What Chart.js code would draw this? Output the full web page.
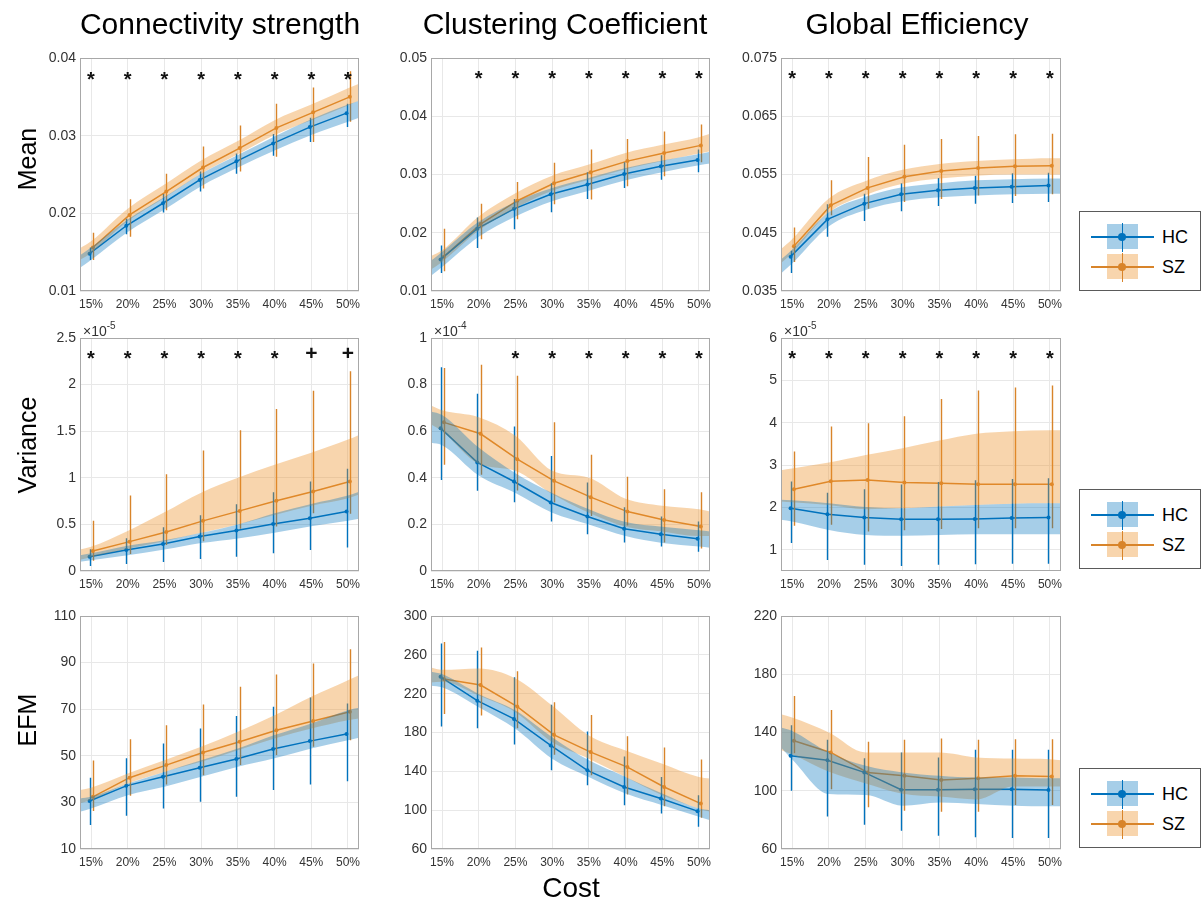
<!DOCTYPE html>
<html>
<head>
<meta charset="utf-8">
<script src="https://cdn.jsdelivr.net/npm/chart.js@4.4.0/dist/chart.umd.min.js"></script>
<style>
  body { margin: 0; background: #fff; width: 1201px; height: 906px; position: relative; overflow: hidden;
         font-family: "Liberation Sans", Arial, sans-serif; }
  canvas { position: absolute; }
  .title { position: absolute; top: 9px; font-size: 30px; line-height: 30px; color: #000;
           white-space: nowrap; transform: translateX(-50%); }
  .rowlab { position: absolute; font-size: 25px; line-height: 25px; color: #000; white-space: nowrap;
            transform: translate(-50%, -50%) rotate(-90deg); }
  .xlab { position: absolute; font-size: 28px; line-height: 28px; color: #000; transform: translate(-50%, -50%); }
  .legend { position: absolute; left: 1079px; width: 120px; height: 78px; border: 1px solid #5a5a5a; background: #fff; }
  .legend span { position: absolute; display: block; }
  .legend .lab { font-size: 18px; line-height: 22px; color: #000; }
</style>
</head>
<body>
<script>
// x axis: network cost
const cost = [15, 20, 25, 30, 35, 40, 45, 50];
const costLabels = ['15%', '20%', '25%', '30%', '35%', '40%', '45%', '50%'];
const bandCost = [13.5, 15, 20, 25, 30, 35, 40, 45, 50, 51.5];

// ---- Mean / Connectivity strength
const meanCS_yTicks = [0.01, 0.02, 0.03, 0.04];
const meanCS_hc = [0.0148, 0.0184, 0.0213, 0.0243, 0.0267, 0.0290, 0.0311, 0.0329];
const meanCS_sz = [0.0156, 0.0198, 0.0228, 0.0259, 0.0284, 0.0310, 0.0330, 0.0350];
const meanCS_hcLo = [0.0140, 0.0173, 0.0201, 0.0228, 0.0251, 0.0274, 0.0292, 0.0311];
const meanCS_hcHi = [0.0156, 0.0193, 0.0225, 0.0254, 0.0277, 0.0302, 0.0323, 0.0341];
const meanCS_szLo = [0.0140, 0.0170, 0.0204, 0.0232, 0.0254, 0.0273, 0.0292, 0.0318];
const meanCS_szHi = [0.0175, 0.0218, 0.0251, 0.0286, 0.0313, 0.0341, 0.0362, 0.0383];
const meanCS_hcBandLo = [0.0130, 0.0140, 0.0176, 0.0205, 0.0235, 0.0259, 0.0281, 0.0301, 0.0318, 0.0323];
const meanCS_hcBandHi = [0.0146, 0.0156, 0.0192, 0.0221, 0.0251, 0.0275, 0.0299, 0.0321, 0.0340, 0.0345];
const meanCS_szBandLo = [0.0140, 0.0149, 0.0190, 0.0220, 0.0251, 0.0276, 0.0301, 0.0320, 0.0339, 0.0345];
const meanCS_szBandHi = [0.0155, 0.0164, 0.0206, 0.0237, 0.0268, 0.0293, 0.0320, 0.0340, 0.0361, 0.0367];
const meanCS_sig = ['*', '*', '*', '*', '*', '*', '*', '*'];

// ---- Mean / Clustering Coefficient
const meanCC_yTicks = [0.01, 0.02, 0.03, 0.04, 0.05];
const meanCC_hc = [0.0154, 0.0207, 0.0241, 0.0266, 0.0283, 0.0301, 0.0314, 0.0325];
const meanCC_sz = [0.0159, 0.0215, 0.0255, 0.0285, 0.0304, 0.0323, 0.0337, 0.0350];
const meanCC_hcLo = [0.0131, 0.0174, 0.0206, 0.0235, 0.0258, 0.0277, 0.0291, 0.0304];
const meanCC_hcHi = [0.0178, 0.0226, 0.0258, 0.0285, 0.0304, 0.0321, 0.0333, 0.0343];
const meanCC_szLo = [0.0134, 0.0189, 0.0223, 0.0249, 0.0257, 0.0280, 0.0297, 0.0321];
const meanCC_szHi = [0.0207, 0.0250, 0.0287, 0.0320, 0.0343, 0.0361, 0.0374, 0.0386];
const meanCC_hcBandLo = [0.0126, 0.0141, 0.0193, 0.0228, 0.0254, 0.0272, 0.0290, 0.0304, 0.0316, 0.0319];
const meanCC_hcBandHi = [0.0152, 0.0167, 0.0219, 0.0253, 0.0277, 0.0294, 0.0311, 0.0324, 0.0335, 0.0339];
const meanCC_szBandLo = [0.0137, 0.0150, 0.0204, 0.0242, 0.0272, 0.0291, 0.0309, 0.0323, 0.0336, 0.0340];
const meanCC_szBandHi = [0.0160, 0.0170, 0.0228, 0.0268, 0.0298, 0.0317, 0.0337, 0.0351, 0.0364, 0.0370];
const meanCC_sig = ['', '*', '*', '*', '*', '*', '*', '*'];

// ---- Mean / Global Efficiency
const meanGE_yTicks = [0.035, 0.045, 0.055, 0.065, 0.075];
const meanGE_hc = [0.0409, 0.0473, 0.0500, 0.0516, 0.0523, 0.0527, 0.0529, 0.0531];
const meanGE_sz = [0.0427, 0.0497, 0.0527, 0.0546, 0.0556, 0.0561, 0.0564, 0.0565];
const meanGE_hcLo = [0.0381, 0.0443, 0.0470, 0.0487, 0.0496, 0.0500, 0.0501, 0.0503];
const meanGE_hcHi = [0.0419, 0.0499, 0.0517, 0.0535, 0.0544, 0.0548, 0.0552, 0.0553];
const meanGE_szLo = [0.0400, 0.0480, 0.0491, 0.0503, 0.0508, 0.0514, 0.0513, 0.0516];
const meanGE_szHi = [0.0459, 0.0540, 0.0580, 0.0601, 0.0611, 0.0616, 0.0619, 0.0620];
const meanGE_hcBandLo = [0.0380, 0.0397, 0.0461, 0.0489, 0.0504, 0.0511, 0.0514, 0.0516, 0.0517, 0.0517];
const meanGE_hcBandHi = [0.0404, 0.0421, 0.0485, 0.0512, 0.0528, 0.0535, 0.0540, 0.0542, 0.0543, 0.0543];
const meanGE_szBandLo = [0.0398, 0.0415, 0.0485, 0.0515, 0.0534, 0.0543, 0.0548, 0.0550, 0.0550, 0.0550];
const meanGE_szBandHi = [0.0422, 0.0439, 0.0509, 0.0539, 0.0558, 0.0568, 0.0573, 0.0576, 0.0578, 0.0578];
const meanGE_sig = ['*', '*', '*', '*', '*', '*', '*', '*'];

// ---- Variance / Connectivity strength (x1e-5)
const varCS_yTicks = [0, 0.5, 1, 1.5, 2, 2.5];
const varCS_hc = [0.154, 0.226, 0.290, 0.369, 0.434, 0.505, 0.566, 0.638];
const varCS_sz = [0.215, 0.315, 0.419, 0.538, 0.645, 0.753, 0.853, 0.961];
const varCS_hcLo = [0.054, 0.075, 0.097, 0.129, 0.154, 0.190, 0.226, 0.251];
const varCS_hcHi = [0.233, 0.351, 0.470, 0.599, 0.717, 0.846, 0.961, 1.097];
const varCS_szLo = [0.111, 0.183, 0.280, 0.319, 0.452, 0.477, 0.620, 0.613];
const varCS_szHi = [0.538, 0.810, 1.039, 1.294, 1.509, 1.738, 1.935, 2.143];
const varCS_hcBandLo = [0.10, 0.115, 0.17, 0.23, 0.30, 0.35, 0.41, 0.48, 0.54, 0.56];
const varCS_hcBandHi = [0.17, 0.19, 0.27, 0.33, 0.41, 0.50, 0.62, 0.72, 0.81, 0.85];
const varCS_szBandLo = [0.12, 0.15, 0.24, 0.32, 0.41, 0.50, 0.60, 0.70, 0.78, 0.82];
const varCS_szBandHi = [0.23, 0.26, 0.43, 0.63, 0.84, 1.00, 1.14, 1.27, 1.41, 1.46];
const varCS_sig = ['*', '*', '*', '*', '*', '*', '+', '+'];

// ---- Variance / Clustering Coefficient (x1e-4)
const varCC_yTicks = [0, 0.2, 0.4, 0.6, 0.8, 1];
const varCC_hc = [0.613, 0.466, 0.384, 0.294, 0.234, 0.181, 0.158, 0.138];
const varCC_sz = [0.638, 0.589, 0.480, 0.387, 0.317, 0.255, 0.219, 0.191];
const varCC_hcLo = [0.391, 0.344, 0.295, 0.212, 0.158, 0.122, 0.105, 0.083];
const varCC_hcHi = [0.875, 0.761, 0.620, 0.494, 0.380, 0.274, 0.234, 0.212];
const varCC_szLo = [0.456, 0.413, 0.345, 0.294, 0.236, 0.195, 0.122, 0.097];
const varCC_szHi = [0.871, 0.885, 0.838, 0.638, 0.499, 0.405, 0.351, 0.338];
const varCC_hcBandLo = [0.55, 0.54, 0.41, 0.335, 0.25, 0.20, 0.15, 0.12, 0.105, 0.10];
const varCC_hcBandHi = [0.685, 0.67, 0.53, 0.42, 0.335, 0.265, 0.21, 0.19, 0.175, 0.17];
const varCC_szBandLo = [0.63, 0.60, 0.46, 0.43, 0.33, 0.25, 0.19, 0.17, 0.15, 0.15];
const varCC_szBandHi = [0.71, 0.69, 0.66, 0.58, 0.43, 0.40, 0.31, 0.28, 0.265, 0.255];
const varCC_sig = ['', '', '*', '*', '*', '*', '*', '*'];

// ---- Variance / Global Efficiency (x1e-5)
const varGE_yTicks = [1, 2, 3, 4, 5, 6];
const varGE_hc = [1.98, 1.84, 1.76, 1.72, 1.72, 1.73, 1.75, 1.76];
const varGE_sz = [2.43, 2.62, 2.65, 2.59, 2.57, 2.55, 2.55, 2.55];
const varGE_hcLo = [1.16, 0.76, 0.65, 0.62, 0.65, 0.66, 0.67, 0.67];
const varGE_hcHi = [2.61, 2.35, 2.43, 2.54, 2.60, 2.64, 2.67, 2.69];
const varGE_szLo = [1.57, 1.59, 1.43, 1.46, 1.49, 1.51, 1.51, 1.51];
const varGE_szHi = [3.32, 3.91, 3.99, 4.15, 4.56, 4.76, 4.83, 4.88];
const varGE_hcBandLo = [1.71, 1.67, 1.47, 1.35, 1.33, 1.35, 1.37, 1.37, 1.37, 1.37];
const varGE_hcBandHi = [2.18, 2.17, 2.10, 2.01, 1.98, 2.02, 2.06, 2.09, 2.10, 2.10];
const varGE_szBandLo = [2.14, 2.12, 2.06, 1.96, 1.98, 2.02, 2.06, 2.09, 2.10, 2.10];
const varGE_szBandHi = [2.88, 2.92, 3.06, 3.24, 3.40, 3.58, 3.74, 3.80, 3.82, 3.82];
const varGE_sig = ['*', '*', '*', '*', '*', '*', '*', '*'];

// ---- EFM / Connectivity strength
const efmCS_yTicks = [10, 30, 50, 70, 90, 110];
const efmCS_hc = [30.6, 37.1, 41.0, 44.9, 48.6, 52.9, 56.3, 59.4];
const efmCS_sz = [32.4, 40.6, 46.0, 51.4, 56.0, 61.0, 64.9, 68.9];
const efmCS_hcLo = [20.3, 24.3, 27.4, 30.3, 32.4, 35.3, 37.7, 39.1];
const efmCS_hcHi = [40.6, 48.9, 55.3, 61.7, 67.1, 71.1, 75.0, 72.4];
const efmCS_szLo = [26.3, 32.9, 37.7, 41.7, 46.0, 50.3, 53.9, 56.7];
const efmCS_szHi = [48.0, 57.1, 63.1, 72.0, 79.6, 84.9, 89.6, 95.7];
const efmCS_hcBandLo = [26.0, 27.4, 33.1, 36.7, 41.0, 45.3, 48.9, 53.1, 56.7, 57.7];
const efmCS_hcBandHi = [31.7, 32.4, 38.1, 43.1, 48.1, 53.1, 58.9, 63.9, 69.6, 70.6];
const efmCS_szBandLo = [29.6, 31.0, 38.1, 43.1, 47.4, 52.4, 57.4, 61.7, 65.3, 66.0];
const efmCS_szBandHi = [35.3, 36.3, 42.4, 48.1, 53.9, 60.3, 67.4, 75.3, 82.4, 84.6];
const efmCS_sig = [];

// ---- EFM / Clustering Coefficient
const efmCC_yTicks = [60, 100, 140, 180, 220, 260, 300];
const efmCC_hc = [237.4, 212.8, 194.0, 166.7, 141.0, 123.9, 112.0, 99.0];
const efmCC_sz = [235.0, 228.9, 206.7, 177.6, 159.8, 144.4, 123.9, 106.8];
const efmCC_hcLo = [186.2, 184.4, 167.7, 141.0, 125.6, 105.1, 96.6, 82.9];
const efmCC_hcHi = [271.6, 264.1, 236.8, 208.7, 181.0, 155.4, 134.2, 115.4];
const efmCC_szLo = [199.1, 197.4, 184.4, 157.1, 135.9, 116.1, 104.1, 92.1];
const efmCC_szHi = [273.3, 267.5, 243.2, 211.1, 198.1, 176.2, 164.6, 152.3];
const efmCC_hcBandLo = [228.2, 226.5, 206.0, 183.8, 153.0, 134.2, 117.1, 105.1, 93.2, 89.7];
const efmCC_hcBandHi = [242.6, 240.2, 219.7, 202.6, 175.2, 151.3, 134.2, 117.1, 101.7, 100.0];
const efmCC_szBandLo = [231.6, 232.3, 218.0, 200.9, 170.1, 153.0, 134.2, 115.4, 101.7, 98.3];
const efmCC_szBandHi = [247.0, 244.6, 246.0, 235.7, 207.7, 176.9, 161.5, 147.9, 134.2, 132.5];
const efmCC_sig = [];

// ---- EFM / Global Efficiency
const efmGE_yTicks = [60, 100, 140, 180, 220];
const efmGE_hc = [124.0, 121.0, 112.6, 100.7, 100.7, 101.1, 101.1, 100.5];
const efmGE_sz = [134.3, 126.3, 112.6, 110.3, 107.3, 108.5, 110.3, 109.8];
const efmGE_hcLo = [100.0, 82.4, 76.7, 72.6, 69.1, 68.0, 67.5, 67.5];
const efmGE_hcHi = [145.0, 135.0, 122.4, 126.3, 122.9, 128.1, 128.1, 128.1];
const efmGE_szLo = [125.8, 101.1, 88.6, 86.3, 85.6, 85.6, 90.2, 90.2];
const efmGE_szHi = [165.1, 155.5, 133.6, 135.0, 135.9, 135.0, 135.4, 135.4];
const efmGE_hcBandLo = [129.7, 121.7, 97.7, 97.0, 89.7, 92.0, 90.9, 89.7, 89.3, 89.3];
const efmGE_hcBandHi = [143.4, 141.1, 126.3, 117.1, 112.6, 110.3, 109.1, 109.1, 108.5, 108.5];
const efmGE_szBandLo = [128.0, 125.0, 113.0, 105.0, 98.0, 96.0, 94.0, 103.0, 103.0, 103.0];
const efmGE_szBandHi = [152.6, 150.3, 140.0, 126.3, 126.3, 126.3, 122.9, 122.2, 121.7, 121.0];
const efmGE_sig = [];

const colTitles = ['Connectivity strength', 'Clustering Coefficient', 'Global Efficiency'];
const rowTitles = ['Mean', 'Variance', 'EFM'];
const groups = ['HC', 'SZ'];

// ---- layout / style
const FONT = '"Liberation Sans", Arial, sans-serif';
const HC_COLOR = '#0072BD', SZ_COLOR = '#D8842A';
const HC_FILL = 'rgba(0,114,189,0.35)', SZ_FILL = 'rgba(237,145,40,0.38)';
const GRID = '#e8e8e8', BOX = '#a8a8a8', TICK = '#333';
const HC_DX = -0.2, SZ_DX = 0.25;
const colLeft = [80, 431, 781], colWidth = [279, 279, 280];
const rowTop = [58, 338, 616], rowHeight = [233, 233, 233];
const AXIS_W = 55, AXIS_H = 24, PAD_T = 22, PAD_R = 10;

const panels = [
  { row: 0, col: 0, min: 0.01, max: 0.04, ticks: meanCS_yTicks, sigY: 0.0380, sig: meanCS_sig,
    hc: meanCS_hc, sz: meanCS_sz, hcLo: meanCS_hcLo, hcHi: meanCS_hcHi, szLo: meanCS_szLo, szHi: meanCS_szHi,
    hcBLo: meanCS_hcBandLo, hcBHi: meanCS_hcBandHi, szBLo: meanCS_szBandLo, szBHi: meanCS_szBandHi },
  { row: 0, col: 1, min: 0.01, max: 0.05, ticks: meanCC_yTicks, sigY: 0.0474, sig: meanCC_sig,
    hc: meanCC_hc, sz: meanCC_sz, hcLo: meanCC_hcLo, hcHi: meanCC_hcHi, szLo: meanCC_szLo, szHi: meanCC_szHi,
    hcBLo: meanCC_hcBandLo, hcBHi: meanCC_hcBandHi, szBLo: meanCC_szBandLo, szBHi: meanCC_szBandHi },
  { row: 0, col: 2, min: 0.035, max: 0.075, ticks: meanGE_yTicks, sigY: 0.0724, sig: meanGE_sig,
    hc: meanGE_hc, sz: meanGE_sz, hcLo: meanGE_hcLo, hcHi: meanGE_hcHi, szLo: meanGE_szLo, szHi: meanGE_szHi,
    hcBLo: meanGE_hcBandLo, hcBHi: meanGE_hcBandHi, szBLo: meanGE_szBandLo, szBHi: meanGE_szBandHi },
  { row: 1, col: 0, min: 0, max: 2.5, ticks: varCS_yTicks, sigY: 2.34, sig: varCS_sig, exp: '-5',
    hc: varCS_hc, sz: varCS_sz, hcLo: varCS_hcLo, hcHi: varCS_hcHi, szLo: varCS_szLo, szHi: varCS_szHi,
    hcBLo: varCS_hcBandLo, hcBHi: varCS_hcBandHi, szBLo: varCS_szBandLo, szBHi: varCS_szBandHi },
  { row: 1, col: 1, min: 0, max: 1, ticks: varCC_yTicks, sigY: 0.935, sig: varCC_sig, exp: '-4',
    hc: varCC_hc, sz: varCC_sz, hcLo: varCC_hcLo, hcHi: varCC_hcHi, szLo: varCC_szLo, szHi: varCC_szHi,
    hcBLo: varCC_hcBandLo, hcBHi: varCC_hcBandHi, szBLo: varCC_szBandLo, szBHi: varCC_szBandHi },
  { row: 1, col: 2, min: 0.5, max: 6, ticks: varGE_yTicks, sigY: 5.65, sig: varGE_sig, exp: '-5',
    hc: varGE_hc, sz: varGE_sz, hcLo: varGE_hcLo, hcHi: varGE_hcHi, szLo: varGE_szLo, szHi: varGE_szHi,
    hcBLo: varGE_hcBandLo, hcBHi: varGE_hcBandHi, szBLo: varGE_szBandLo, szBHi: varGE_szBandHi },
  { row: 2, col: 0, min: 10, max: 110, ticks: efmCS_yTicks, sig: efmCS_sig,
    hc: efmCS_hc, sz: efmCS_sz, hcLo: efmCS_hcLo, hcHi: efmCS_hcHi, szLo: efmCS_szLo, szHi: efmCS_szHi,
    hcBLo: efmCS_hcBandLo, hcBHi: efmCS_hcBandHi, szBLo: efmCS_szBandLo, szBHi: efmCS_szBandHi },
  { row: 2, col: 1, min: 60, max: 300, ticks: efmCC_yTicks, sig: efmCC_sig,
    hc: efmCC_hc, sz: efmCC_sz, hcLo: efmCC_hcLo, hcHi: efmCC_hcHi, szLo: efmCC_szLo, szHi: efmCC_szHi,
    hcBLo: efmCC_hcBandLo, hcBHi: efmCC_hcBandHi, szBLo: efmCC_szBandLo, szBHi: efmCC_szBandHi },
  { row: 2, col: 2, min: 60, max: 220, ticks: efmGE_yTicks, sig: efmGE_sig,
    hc: efmGE_hc, sz: efmGE_sz, hcLo: efmGE_hcLo, hcHi: efmGE_hcHi, szLo: efmGE_szLo, szHi: efmGE_szHi,
    hcBLo: efmGE_hcBandLo, hcBHi: efmGE_hcBandHi, szBLo: efmGE_szBandLo, szBHi: efmGE_szBandHi },
];

const toPts = (xs, ys, dx) => ys.map((v, i) => ({ x: xs[i] + dx, y: v }));

function band(data, color, fill) {
  return { data, fill, backgroundColor: color, borderColor: 'rgba(0,0,0,0)', borderWidth: 0,
           pointRadius: 0, cubicInterpolationMode: 'monotone' };
}
function meanLine(data, color) {
  return { data, fill: false, borderColor: color, backgroundColor: color, borderWidth: 1.5,
           pointRadius: 2, pointBorderWidth: 0, tension: 0 };
}

// error bars, box, significance marks and the x10^n label
function overlay(p) {
  return {
    id: 'overlay',
    afterDatasetDraw(chart, args) {
      if (args.index !== 3) return;
      const { ctx, scales: { x, y } } = chart;
      ctx.save();
      ctx.lineWidth = 1.4;
      [[p.hcLo, p.hcHi, HC_DX, HC_COLOR], [p.szLo, p.szHi, SZ_DX, SZ_COLOR]].forEach(([lo, hi, dx, c]) => {
        ctx.strokeStyle = c;
        ctx.beginPath();
        cost.forEach((v, i) => {
          const px = Math.round(x.getPixelForValue(v + dx)) + 0.5;
          ctx.moveTo(px, y.getPixelForValue(lo[i]));
          ctx.lineTo(px, y.getPixelForValue(hi[i]));
        });
        ctx.stroke();
      });
      ctx.restore();
    },
    afterDraw(chart) {
      const { ctx, chartArea: a, scales: { x, y } } = chart;
      ctx.save();
      ctx.strokeStyle = BOX;
      ctx.lineWidth = 1;
      ctx.strokeRect(a.left + 0.5, a.top + 0.5, a.width - 1, a.height - 1);
      ctx.fillStyle = '#111';
      ctx.textAlign = 'center';
      ctx.textBaseline = 'alphabetic';
      p.sig.forEach((s, i) => {
        if (!s) return;
        const py = y.getPixelForValue(p.sigY);
        const fs = s === '+' ? 21 : 20;
        ctx.font = 'bold ' + fs + 'px ' + FONT;
        ctx.fillText(s, x.getPixelForValue(cost[i]), py + (s === '+' ? 0.35 : 0.6) * fs);
      });
      if (p.exp) {
        ctx.fillStyle = TICK;
        ctx.textAlign = 'left';
        ctx.font = '14px ' + FONT;
        ctx.fillText('\u00d710', a.left + 3, a.top - 2);
        const w = ctx.measureText('\u00d710').width;
        ctx.font = '10px ' + FONT;
        ctx.fillText(p.exp, a.left + 3 + w, a.top - 9);
      }
      ctx.restore();
    }
  };
}

function makeChart(p) {
  const canvas = document.createElement('canvas');
  canvas.width = colWidth[p.col] + AXIS_W + PAD_R;
  canvas.height = rowHeight[p.row] + PAD_T + AXIS_H;
  canvas.style.left = (colLeft[p.col] - AXIS_W) + 'px';
  canvas.style.top = (rowTop[p.row] - PAD_T) + 'px';
  document.body.appendChild(canvas);

  new Chart(canvas, {
    type: 'line',
    data: {
      datasets: [
        band(toPts(bandCost, p.hcBHi, 0), HC_FILL, '+1'),
        band(toPts(bandCost, p.hcBLo, 0), HC_FILL, false),
        band(toPts(bandCost, p.szBHi, 0), SZ_FILL, '+1'),
        band(toPts(bandCost, p.szBLo, 0), SZ_FILL, false),
        meanLine(toPts(cost, p.hc, HC_DX), HC_COLOR),
        meanLine(toPts(cost, p.sz, SZ_DX), SZ_COLOR),
      ]
    },
    options: {
      responsive: false,
      animation: false,
      devicePixelRatio: 1,
      layout: { padding: { top: PAD_T, right: PAD_R, left: 0, bottom: 0 } },
      plugins: { legend: { display: false }, tooltip: { enabled: false } },
      scales: {
        x: {
          type: 'linear', min: 13.5, max: 51.5,
          afterBuildTicks: s => { s.ticks = cost.map(v => ({ value: v })); },
          afterFit: s => { s.height = AXIS_H; },
          grid: { color: GRID, drawTicks: false },
          border: { display: false },
          ticks: { autoSkip: false, maxRotation: 0, padding: 6, color: TICK,
                   font: { family: FONT, size: 12 }, callback: (v, i) => costLabels[i] }
        },
        y: {
          type: 'linear', min: p.min, max: p.max,
          afterBuildTicks: s => { s.ticks = p.ticks.map(v => ({ value: v })); },
          afterFit: s => { s.width = AXIS_W; },
          grid: { color: GRID, drawTicks: false },
          border: { display: false },
          ticks: { padding: 4, color: TICK, font: { family: FONT, size: 14 }, callback: v => String(v) }
        }
      }
    },
    plugins: [overlay(p)]
  });
}

panels.forEach(makeChart);

// titles and axis labels
const titleX = [220, 565, 917];
colTitles.forEach((t, i) => {
  const d = document.createElement('div');
  d.className = 'title';
  d.style.left = titleX[i] + 'px';
  d.textContent = t;
  document.body.appendChild(d);
});
const rowLabelY = [159, 445, 720];
rowTitles.forEach((t, i) => {
  const d = document.createElement('div');
  d.className = 'rowlab';
  d.style.left = '27px';
  d.style.top = rowLabelY[i] + 'px';
  d.textContent = t;
  document.body.appendChild(d);
});
const costLab = document.createElement('div');
costLab.className = 'xlab';
costLab.style.left = '571px';
costLab.style.top = '888px';
costLab.textContent = 'Cost';
document.body.appendChild(costLab);

// legends (one per row)
const legendTop = [211, 489, 768];
function span(parent, css, text) {
  const s = document.createElement('span');
  Object.assign(s.style, css);
  if (text) { s.className = 'lab'; s.textContent = text; }
  parent.appendChild(s);
}
legendTop.forEach(top => {
  const box = document.createElement('div');
  box.className = 'legend';
  box.style.top = top + 'px';
  groups.forEach((g, k) => {
    const cy = 25 + k * 30;
    const line = k === 0 ? HC_COLOR : SZ_COLOR;
    const fill = k === 0 ? HC_FILL : SZ_FILL;
    span(box, { left: '27px', top: (cy - 13) + 'px', width: '31px', height: '25px', background: fill });
    span(box, { left: '11px', top: (cy - 0.75) + 'px', width: '63px', height: '1.5px', background: line });
    span(box, { left: '41.5px', top: (cy - 14) + 'px', width: '1.5px', height: '29px', background: line });
    span(box, { left: '38px', top: (cy - 4) + 'px', width: '8px', height: '8px', borderRadius: '50%', background: line });
    span(box, { left: '82px', top: (cy - 11) + 'px' }, g);
  });
  document.body.appendChild(box);
});
</script>
</body>
</html>
